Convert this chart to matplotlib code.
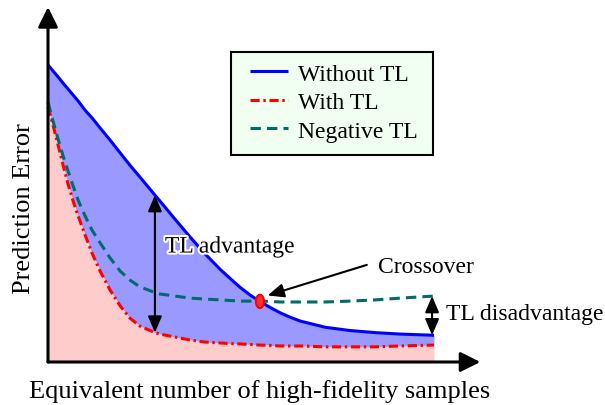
import matplotlib
matplotlib.use("Agg")
import matplotlib.pyplot as plt
import matplotlib.patches as patches
import matplotlib.patheffects as pe
import numpy as np

plt.rcParams['font.family'] = ['Liberation Serif', 'DejaVu Serif']

# sample positions along the "equivalent number of samples" axis
samples = [0.00, 0.13, 0.26, 0.39, 0.52, 0.65, 0.78, 0.96, 1.14, 1.35,
           1.61, 1.87, 2.12, 2.38, 2.77, 2.90, 3.29, 3.68, 4.07, 4.46,
           4.72, 4.97, 5.23, 5.49, 5.75, 6.01, 6.27, 6.53, 7.18, 7.82,
           8.47, 9.12, 10.00]

# prediction error curves
without_tl = [1.000, 0.980, 0.960, 0.939, 0.919, 0.899, 0.879, 0.848, 0.822, 0.788,
              0.747, 0.704, 0.663, 0.623, 0.562, 0.542, 0.481, 0.421, 0.364, 0.312,
              0.281, 0.252, 0.226, 0.204, 0.184, 0.166, 0.151, 0.138, 0.117, 0.106,
              0.099, 0.094, 0.090]
with_tl = [0.859, 0.798, 0.731, 0.663, 0.599, 0.542, 0.492, 0.428, 0.367, 0.306,
           0.242, 0.189, 0.148, 0.121, 0.099, 0.094, 0.084, 0.074, 0.067, 0.064,
           0.062, 0.061, 0.059, 0.057, 0.056, 0.054, 0.054, 0.054, 0.051, 0.051,
           0.051, 0.054, 0.057]
negative_tl = [0.875, 0.811, 0.751, 0.694, 0.643, 0.593, 0.545, 0.492, 0.444, 0.401,
               0.350, 0.306, 0.276, 0.253, 0.234, 0.229, 0.222, 0.215, 0.212, 0.209,
               0.207, 0.205, 0.205, 0.205, 0.204, 0.202, 0.202, 0.202, 0.202, 0.205,
               0.209, 0.215, 0.222]

series_labels = ['Without TL', 'With TL', 'Negative TL']

x = np.array(samples)
blue = np.array(without_tl)
red = np.array(with_tl)
teal = np.array(negative_tl)

fig = plt.figure(figsize=(6.05, 4.06), dpi=100)
ax = fig.add_axes([0, 0, 1, 1])
ax.set_xlim(-1.2435, 14.43)
ax.set_ylim(-0.1448, 1.2222)
ax.axis('off')

# shaded regions
ax.fill_between(x, 0, red, color='#ffcccc', lw=0, zorder=1)
ax.fill_between(x, red, blue, color='#9999ff', lw=0, zorder=1)

# curves
ax.plot(x, blue, color='#0000ff', lw=2.2, label=series_labels[0], zorder=3,
        solid_capstyle='butt')
ax.plot(x, red, color='#ff0000', lw=2.2, ls=(0, (3.0, 1.2, 0.8, 1.2)),
        label=series_labels[1], zorder=3)
ax.plot(x, teal, color='#006b6b', lw=2.2, ls=(0, (3.4, 2.0)),
        label=series_labels[2], zorder=3)

# axes drawn as arrows
axis_arrow = dict(arrowstyle='-|>,head_length=0.6,head_width=0.3', lw=2.2,
                  color='black', shrinkA=0, shrinkB=0, mutation_scale=20)
ax.annotate('', xy=(0, 1.195), xytext=(0, 0), arrowprops=axis_arrow, zorder=5)
ax.annotate('', xy=(11.2, 0), xytext=(0, 0), arrowprops=axis_arrow, zorder=5)

# TL advantage: gap between curves at one sample
k = 14
both_arrow = dict(arrowstyle='<|-|>,head_length=0.7,head_width=0.3', lw=1.5,
                  color='black', shrinkA=0, shrinkB=0, mutation_scale=14)
ax.annotate('', xy=(x[k], blue[k]), xytext=(x[k], red[k]),
            arrowprops=both_arrow, zorder=4)
ax.text(3.03, 0.387, 'TL advantage', fontsize=17, ha='left', va='center',
        zorder=6, path_effects=[pe.withStroke(linewidth=3, foreground='white')])

# TL disadvantage at the last sample
ax.annotate('', xy=(x[-1] - 0.05, teal[-1]), xytext=(x[-1] - 0.05, blue[-1]),
            arrowprops=both_arrow, zorder=4)
ax.text(10.31, 0.162, 'TL disadvantage', fontsize=17, ha='left', va='center')

# crossover point
c = int(np.argmax(blue <= teal))
ax.add_patch(patches.Ellipse((x[c], blue[c]), 0.21, 0.045, facecolor='#ff3030',
                             edgecolor='red', lw=1.5, zorder=6))
ax.annotate('', xy=(x[c] + 0.2, blue[c] + 0.02), xytext=(8.26, 0.327),
            arrowprops=dict(arrowstyle='-|>,head_length=0.7,head_width=0.3',
                            lw=1.5, color='black', shrinkA=0, shrinkB=0,
                            mutation_scale=14), zorder=6)
ax.text(8.55, 0.32, 'Crossover', fontsize=17, ha='left', va='center')

# axis titles
ax.text(-0.622, 0.519, 'Prediction Error', fontsize=19, rotation=90,
        ha='center', va='center')
ax.text(5.47, -0.096, 'Equivalent number of high-fidelity samples', fontsize=19,
        ha='center', va='center')

# legend box drawn separately so the padding can be set freely
box = patches.Rectangle((231 / 605, 1 - 156 / 406), 202 / 605, 103 / 406,
                        transform=fig.transFigure, facecolor='#f0fff0',
                        edgecolor='black', lw=1.5, zorder=4.5)
ax.add_patch(box)
leg = ax.legend(loc='upper left', bbox_to_anchor=(250 / 605, 1 - 64 / 406),
                bbox_transform=fig.transFigure, borderaxespad=0, fontsize=17,
                frameon=False, handlelength=1.6, handletextpad=0.45,
                labelspacing=0.3, borderpad=0)

fig.savefig('out.png', dpi=100)
